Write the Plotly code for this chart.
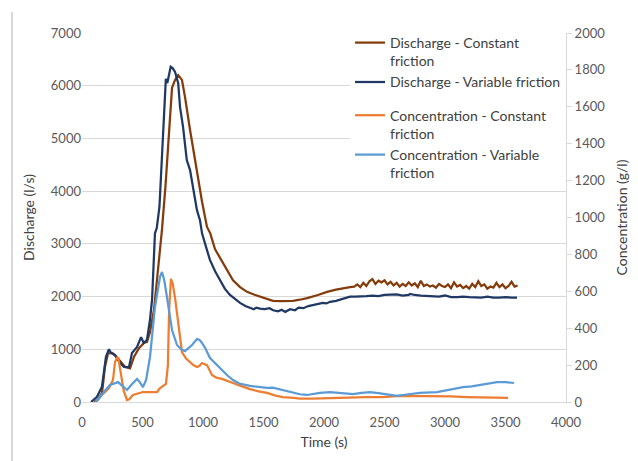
import plotly.graph_objects as go

# Discharge, constant friction (l/s)
t_q_const = [100, 130, 165, 190, 215, 250, 280, 306, 355, 397, 430, 471, 512, 537, 562, 595,
             630, 661, 690, 711, 744, 769, 795, 826, 851, 893, 940, 992, 1033, 1060, 1099,
             1165, 1248, 1306, 1364, 1420, 1471, 1530, 1578, 1650, 1744, 1800, 1860, 1950,
             2025, 2100, 2180, 2215,
             2250, 2275, 2300, 2325, 2350, 2375, 2400, 2425, 2450, 2475, 2500, 2525, 2550,
             2575, 2600, 2625, 2650, 2675, 2700, 2725, 2750, 2775, 2800, 2825, 2850, 2875,
             2900, 2925, 2950, 2975, 3000, 3025, 3050, 3075, 3100, 3125, 3150, 3175, 3200,
             3225, 3250, 3275, 3300, 3325, 3350, 3375, 3400, 3425, 3450, 3475, 3500, 3525,
             3550, 3575, 3600]
q_const = [0, 40, 170, 670, 920, 930, 870, 800, 670, 640, 860, 1020, 1120, 1140, 1330, 1750,
           2500, 3270, 4100, 4840, 5960, 6110, 6200, 6110, 5790, 5160, 4500, 3800, 3320, 3200,
           2900, 2640, 2310, 2180, 2090, 2040, 2000, 1950, 1920, 1915, 1920, 1940, 1970, 2030,
           2090, 2130, 2170, 2180,
           2190, 2230, 2180, 2260, 2200, 2290, 2330, 2240, 2300, 2270, 2310, 2230, 2280,
           2210, 2260, 2190, 2240, 2200, 2270, 2210, 2250, 2180, 2300, 2200, 2230, 2190,
           2210, 2170, 2240, 2200, 2180, 2230, 2160, 2270, 2190, 2220, 2160, 2200, 2150,
           2240, 2180, 2290, 2200, 2230, 2150, 2190, 2170, 2260, 2180, 2230, 2160, 2200,
           2280, 2190, 2210]

# Discharge, variable friction (l/s)
t_q_var = [75, 124, 165, 198, 215, 223, 240, 273, 314, 347, 388, 413, 455, 488, 510, 537, 562,
           579, 603, 618, 640, 660, 680, 693, 705, 720, 733, 750, 769, 795, 810, 835, 866, 893,
           919, 950, 975, 992, 1033, 1058, 1100, 1140, 1180, 1223, 1265, 1306, 1350, 1388,
           1420, 1440, 1471, 1510, 1550, 1580, 1620, 1650, 1680, 1720, 1760, 1790, 1830, 1870,
           1909, 1950, 1990, 2020, 2050, 2100, 2150, 2200, 2215, 2260, 2300, 2350, 2400, 2450,
           2500, 2550, 2600, 2650, 2700, 2711, 2750, 2800, 2850, 2900, 2950, 3000, 3050, 3100,
           3150, 3200, 3250, 3300, 3350, 3400, 3450, 3500, 3550, 3595]
q_var = [0, 100, 290, 860, 960, 1000, 930, 890, 740, 665, 660, 930, 1045, 1230, 1120, 1180, 1560,
         1940, 3200, 3300, 3700, 4600, 5600, 6130, 6050, 6200, 6360, 6330, 6260, 6050, 5600, 5220,
         4590, 4400, 4080, 3640, 3450, 3200, 2880, 2690, 2480, 2310, 2150, 2030, 1950, 1880, 1820,
         1780, 1760, 1790, 1770, 1760, 1780, 1740, 1720, 1750, 1710, 1760, 1740, 1790, 1780, 1820,
         1840, 1850, 1880, 1870, 1900, 1920, 1950, 1990, 2000, 2000, 2010, 2010, 2020, 2010,
         2030, 2030, 2040, 2020, 2030, 2050, 2030, 2020, 2010, 2010, 2000, 2020, 1990, 1990,
         2000, 1990, 1990, 1980, 2000, 1980, 1980, 1990, 1980, 1980]

# Sediment concentration, constant friction (g/l)
t_c_const = [116, 165, 223, 256, 273, 290, 300, 320, 345, 372, 390, 421, 460, 504, 560, 620, 645,
             694, 710, 720, 735, 750, 770, 785, 805, 826, 860, 893, 920, 950, 970, 992, 1010,
             1033, 1074, 1110, 1157, 1200, 1248, 1300, 1388, 1460, 1529, 1600, 1661, 1750,
             1802, 1900, 1967, 2074, 2200, 2350, 2488, 2628, 2750, 2901, 3050, 3182, 3350, 3521]
c_const = [0, 38, 76, 119, 217, 240, 238, 150, 60, 11, 15, 38, 45, 54, 54, 54, 76,
           98, 200, 500, 667, 640, 560, 482, 380, 271, 235, 217, 200, 190, 195, 211, 207,
           200, 146, 132, 125, 113, 103, 90, 70, 58, 49, 35, 27, 22,
           18, 18, 20, 22, 24, 26, 27, 33, 33, 33, 30, 27, 25, 22]

# Sediment concentration, variable friction (g/l)
t_c_var = [110, 140, 174, 231, 298, 340, 372, 410, 455, 480, 504, 530, 562, 603, 645, 661, 680,
           702, 744, 785, 820, 851, 880, 909, 950, 970, 992, 1020, 1058, 1100, 1140, 1200, 1248,
           1300, 1388, 1460, 1529, 1578, 1640, 1719, 1800, 1860, 1920, 1967, 2050, 2150, 2240,
           2310, 2380, 2450, 2520, 2603, 2700, 2793, 2934, 3050, 3149, 3220, 3289, 3360, 3430,
           3500, 3570]
c_var = [0, 20, 49, 92, 108, 85, 65, 95, 125, 105, 81, 120, 244, 515, 678, 705, 660,
         569, 390, 309, 285, 276, 290, 309, 341, 338, 320, 290, 238, 210, 184, 145, 119,
         100, 87, 80, 76, 78, 68, 54, 42, 38, 45, 49, 54, 48, 43,
         50, 54, 48, 40, 33, 42, 49, 54, 68, 81, 85, 92, 100, 108,
         108, 103]

names = ["Discharge - Constant<br>friction", "Discharge - Variable friction",
         "Concentration - Constant<br>friction", "Concentration - Variable<br>friction"]
colors = ["#843C0C", "#1F3864", "#ED7D31", "#5B9BD5"]

FONT = "Lato, 'Open Sans', sans-serif"
W, H = 638, 461
L, R, T, B = 82, 72, 33, 59

fig = go.Figure()
fig.add_trace(go.Scatter(x=t_q_const, y=q_const, name=names[0], mode="lines",
                         line=dict(color=colors[0], width=2.25), legendgroup="q"))
fig.add_trace(go.Scatter(x=t_q_var, y=q_var, name=names[1], mode="lines",
                         line=dict(color=colors[1], width=2.25), legendgroup="q"))
fig.add_trace(go.Scatter(x=t_c_const, y=c_const, name=names[2], mode="lines", yaxis="y2",
                         line=dict(color=colors[2], width=2.25), legendgroup="c"))
fig.add_trace(go.Scatter(x=t_c_var, y=c_var, name=names[3], mode="lines", yaxis="y2",
                         line=dict(color=colors[3], width=2.25), legendgroup="c"))

pw = W - L - R
ph = H - T - B
fig.update_layout(
    width=W, height=H,
    margin=dict(l=L, r=R, t=T, b=B),
    paper_bgcolor="white", plot_bgcolor="white",
    font=dict(family=FONT, size=13, color="#595959"),
    xaxis=dict(range=[0, 4000], dtick=500, showgrid=False, zeroline=False,
               showline=True, linecolor="#D9D9D9", linewidth=1, ticks="",
               ticklabelstandoff=8,
               tickfont=dict(size=13, color="#595959"),
               title=dict(text="Time (s)", font=dict(size=14, color="#404040"), standoff=8)),
    yaxis=dict(range=[0, 7000], dtick=1000, showgrid=True, gridcolor="#D9D9D9", gridwidth=1,
               zeroline=False, showline=False, ticks="",
               tickfont=dict(size=13, color="#595959"),
               title=dict(text="Discharge (l/s)", font=dict(size=14, color="#404040"), standoff=12)),
    yaxis2=dict(range=[0, 2000], dtick=200, overlaying="y", side="right", showgrid=False,
                zeroline=False, showline=True, linecolor="#D9D9D9", linewidth=1,
                ticks="outside", ticklen=5, tickcolor="#D9D9D9",
                tickfont=dict(size=13, color="#595959"),
                title=dict(text="Concentration (g/l)", font=dict(size=14, color="#404040"), standoff=12)),
    legend=dict(x=(350 - L) / pw, y=1.0 + 6 / ph, xanchor="left", yanchor="top",
                bgcolor="white", borderwidth=0, traceorder="grouped",
                tracegroupgap=12, valign="top",
                font=dict(family=FONT, size=14, color="#404040")),
    showlegend=True,
)

# thin frame line on the left edge of the chart area
fig.add_shape(type="line", xref="paper", yref="paper",
              x0=(12 - L) / pw, x1=(12 - L) / pw,
              y0=(H - B - H) / ph, y1=(H - B - 12) / ph,
              line=dict(color="#D9D9D9", width=2))

fig.write_html("out.html")
